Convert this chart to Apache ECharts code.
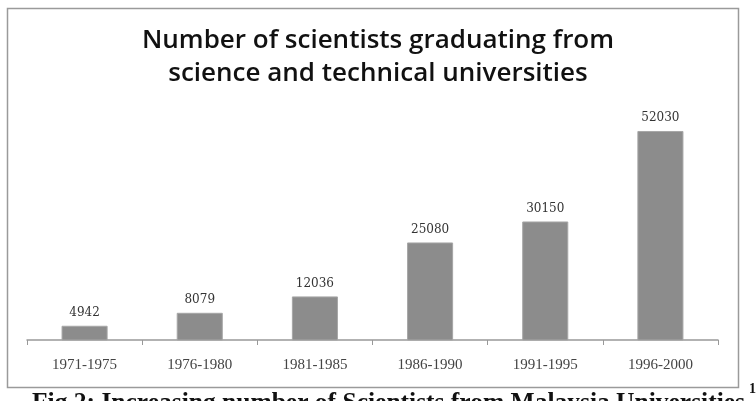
<!DOCTYPE html>
<html>
<head>
<meta charset="utf-8">
<script src="https://cdn.jsdelivr.net/npm/echarts@6/dist/echarts.min.js"></script>
<style>html,body{margin:0;padding:0;background:#fff;}#c{width:756px;height:401px;}</style>
</head>
<body>
<div id="c"></div>
<script>
var categories = ['1971-1975', '1976-1980', '1981-1985', '1986-1990', '1991-1995', '1996-2000'];
var graduates = [4942, 8079, 12036, 25080, 30150, 52030];
var titleText = 'Number of scientists graduating from\nscience and technical universities';
var captionText = 'Fig.2: Increasing number of Scientists from Malaysia Universities';

var chart = echarts.init(document.getElementById('c'), null, {renderer: 'canvas'});
chart.setOption({
  animation: false,
  backgroundColor: '#fff',
  title: {
    text: titleText,
    left: 'center',
    top: 19,
    textStyle: {fontFamily: 'Open Sans', fontWeight: 600, fontSize: 26, color: '#111', lineHeight: 33}
  },
  grid: {left: 27, right: 38, top: 98, bottom: 61},
  xAxis: {
    type: 'category',
    data: categories,
    axisLine: {lineStyle: {color: '#999', width: 1.5}},
    axisTick: {show: true, length: 5, lineStyle: {color: '#999'}},
    axisLabel: {margin: 18, fontFamily: 'Liberation Serif', fontSize: 15, color: '#444'}
  },
  yAxis: {
    type: 'value', min: 1500, max: 60000, show: false,
    splitLine: {show: false}
  },
  series: [{
    type: 'bar',
    data: graduates,
    barWidth: '40%',
    itemStyle: {color: '#8c8c8c', borderColor: '#a6a6a6', borderWidth: 1},
    label: {show: true, position: 'top', distance: 7, fontFamily: 'DejaVu Serif', fontSize: 12, color: '#333'}
  }],
  graphic: [
    {type: 'rect', shape: {x: 7.5, y: 8.5, width: 731, height: 379}, style: {fill: 'none', stroke: '#9a9a9a', lineWidth: 1.5}, z: -1},
    {type: 'text', x: 32, y: 403, style: {text: captionText, font: 'bold 25.5px "Liberation Serif"', fill: '#111', verticalAlign: 'middle', align: 'left'}},
    {type: 'text', x: 749, y: 389, style: {text: '1', font: 'bold 14px "Liberation Serif"', fill: '#111', verticalAlign: 'middle', align: 'left'}}
  ]
});
</script>
</body>
</html>
